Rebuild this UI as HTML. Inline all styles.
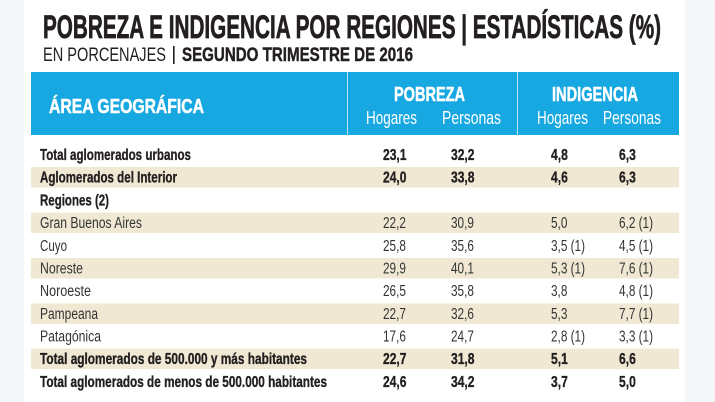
<!DOCTYPE html>
<html>
<head>
<meta charset="utf-8">
<style>
  html,body{margin:0;padding:0;background:#f4f6fa;}
  svg{display:block;}
  text{font-family:"Liberation Sans", Arial, sans-serif;}
  .b{font-weight:bold;fill:#231f20;stroke:#231f20;stroke-width:0.35;}
  .r{font-weight:normal;fill:#333333;}
</style>
</head>
<body>
<svg width="715" height="402" viewBox="0 0 715 402" xmlns="http://www.w3.org/2000/svg">
  <rect x="0" y="0" width="715" height="402" fill="#f4f6fa"/>
  <rect x="24" y="0" width="661" height="402" fill="#ffffff"/>

  <!-- Title -->
  <text x="43" y="38" font-size="32" font-weight="bold" fill="#231f20" stroke="#231f20" stroke-width="0.7" textLength="618" lengthAdjust="spacingAndGlyphs">POBREZA E INDIGENCIA POR REGIONES | ESTADÍSTICAS (%)</text>
  <text x="43" y="61" font-size="19.5" fill="#231f20" textLength="123" lengthAdjust="spacingAndGlyphs">EN PORCENAJES</text>
  <rect x="173" y="46" width="1.6" height="18" fill="#231f20"/>
  <text x="182" y="61" font-size="19.5" font-weight="bold" fill="#231f20" stroke="#231f20" stroke-width="0.45" textLength="231" lengthAdjust="spacingAndGlyphs">SEGUNDO TRIMESTRE DE 2016</text>

  <!-- Header band -->
  <rect x="31" y="72" width="648" height="63" fill="#17a8e2"/>
  <rect x="347" y="72" width="1" height="63" fill="#b9e3f6"/>
  <rect x="517" y="72" width="1" height="63" fill="#b9e3f6"/>
  <text x="49" y="113" font-size="20" font-weight="bold" fill="#ffffff" stroke="#ffffff" stroke-width="0.5" textLength="155" lengthAdjust="spacingAndGlyphs">ÁREA GEOGRÁFICA</text>
  <text x="394" y="101" font-size="20" font-weight="bold" fill="#ffffff" stroke="#ffffff" stroke-width="0.5" textLength="71" lengthAdjust="spacingAndGlyphs">POBREZA</text>
  <text x="552" y="101" font-size="20" font-weight="bold" fill="#ffffff" stroke="#ffffff" stroke-width="0.5" textLength="86" lengthAdjust="spacingAndGlyphs">INDIGENCIA</text>
  <text x="366" y="124" font-size="18" fill="#ffffff" textLength="51" lengthAdjust="spacingAndGlyphs">Hogares</text>
  <text x="442" y="124" font-size="18" fill="#ffffff" textLength="59" lengthAdjust="spacingAndGlyphs">Personas</text>
  <text x="537" y="124" font-size="18" fill="#ffffff" textLength="51" lengthAdjust="spacingAndGlyphs">Hogares</text>
  <text x="603" y="124" font-size="18" fill="#ffffff" textLength="58" lengthAdjust="spacingAndGlyphs">Personas</text>

  <!-- Beige stripes -->
  <rect x="31" y="167" width="648" height="20.5" fill="#f0e8d3"/>
  <rect x="31" y="212.6" width="648" height="20.5" fill="#f0e8d3"/>
  <rect x="31" y="258" width="648" height="20.5" fill="#f0e8d3"/>
  <rect x="31" y="303.4" width="648" height="20.5" fill="#f0e8d3"/>
  <rect x="31" y="348.6" width="648" height="20.5" fill="#f0e8d3"/>

  <!-- Labels -->
  <g font-size="15.5">
    <text class="b" x="40" y="160" textLength="151" lengthAdjust="spacingAndGlyphs">Total aglomerados urbanos</text>
    <text class="b" x="40" y="182.7" textLength="137" lengthAdjust="spacingAndGlyphs">Aglomerados del Interior</text>
    <text class="b" x="40" y="205.4" textLength="69" lengthAdjust="spacingAndGlyphs">Regiones (2)</text>
    <text class="r" x="40" y="228.1" textLength="102" lengthAdjust="spacingAndGlyphs">Gran Buenos Aires</text>
    <text class="r" x="40" y="250.8" textLength="27" lengthAdjust="spacingAndGlyphs">Cuyo</text>
    <text class="r" x="40" y="273.5" textLength="43" lengthAdjust="spacingAndGlyphs">Noreste</text>
    <text class="r" x="40" y="296.2" textLength="51" lengthAdjust="spacingAndGlyphs">Noroeste</text>
    <text class="r" x="40" y="318.9" textLength="58" lengthAdjust="spacingAndGlyphs">Pampeana</text>
    <text class="r" x="40" y="341.6" textLength="61" lengthAdjust="spacingAndGlyphs">Patagónica</text>
    <text class="b" x="40" y="364" textLength="267" lengthAdjust="spacingAndGlyphs">Total aglomerados de 500.000 y más habitantes</text>
    <text class="b" x="40" y="387" textLength="287" lengthAdjust="spacingAndGlyphs">Total aglomerados de menos de 500.000 habitantes</text>
  </g>

  <!-- Numbers -->
  <g font-size="15.5">
    <!-- row 0 -->
    <text class="b" transform="translate(383 160) scale(0.78 1)">23,1</text>
    <text class="b" transform="translate(451 160) scale(0.78 1)">32,2</text>
    <text class="b" transform="translate(551 160) scale(0.78 1)">4,8</text>
    <text class="b" transform="translate(619 160) scale(0.78 1)">6,3</text>
    <!-- row 1 -->
    <text class="b" transform="translate(383 182.7) scale(0.78 1)">24,0</text>
    <text class="b" transform="translate(451 182.7) scale(0.78 1)">33,8</text>
    <text class="b" transform="translate(551 182.7) scale(0.78 1)">4,6</text>
    <text class="b" transform="translate(619 182.7) scale(0.78 1)">6,3</text>
    <!-- row 3 -->
    <text class="r" transform="translate(383 228.1) scale(0.76 1)">22,2</text>
    <text class="r" transform="translate(451 228.1) scale(0.76 1)">30,9</text>
    <text class="r" transform="translate(551 228.1) scale(0.76 1)">5,0</text>
    <text class="r" transform="translate(619 228.1) scale(0.76 1)">6,2 (1)</text>
    <!-- row 4 -->
    <text class="r" transform="translate(383 250.8) scale(0.76 1)">25,8</text>
    <text class="r" transform="translate(451 250.8) scale(0.76 1)">35,6</text>
    <text class="r" transform="translate(551 250.8) scale(0.76 1)">3,5 (1)</text>
    <text class="r" transform="translate(619 250.8) scale(0.76 1)">4,5 (1)</text>
    <!-- row 5 -->
    <text class="r" transform="translate(383 273.5) scale(0.76 1)">29,9</text>
    <text class="r" transform="translate(451 273.5) scale(0.76 1)">40,1</text>
    <text class="r" transform="translate(551 273.5) scale(0.76 1)">5,3 (1)</text>
    <text class="r" transform="translate(619 273.5) scale(0.76 1)">7,6 (1)</text>
    <!-- row 6 -->
    <text class="r" transform="translate(383 296.2) scale(0.76 1)">26,5</text>
    <text class="r" transform="translate(451 296.2) scale(0.76 1)">35,8</text>
    <text class="r" transform="translate(551 296.2) scale(0.76 1)">3,8</text>
    <text class="r" transform="translate(619 296.2) scale(0.76 1)">4,8 (1)</text>
    <!-- row 7 -->
    <text class="r" transform="translate(383 318.9) scale(0.76 1)">22,7</text>
    <text class="r" transform="translate(451 318.9) scale(0.76 1)">32,6</text>
    <text class="r" transform="translate(551 318.9) scale(0.76 1)">5,3</text>
    <text class="r" transform="translate(619 318.9) scale(0.76 1)">7,7 (1)</text>
    <!-- row 8 -->
    <text class="r" transform="translate(383 341.6) scale(0.76 1)">17,6</text>
    <text class="r" transform="translate(451 341.6) scale(0.76 1)">24,7</text>
    <text class="r" transform="translate(551 341.6) scale(0.76 1)">2,8 (1)</text>
    <text class="r" transform="translate(619 341.6) scale(0.76 1)">3,3 (1)</text>
    <!-- row 9 -->
    <text class="b" transform="translate(383 364) scale(0.78 1)">22,7</text>
    <text class="b" transform="translate(451 364) scale(0.78 1)">31,8</text>
    <text class="b" transform="translate(551 364) scale(0.78 1)">5,1</text>
    <text class="b" transform="translate(619 364) scale(0.78 1)">6,6</text>
    <!-- row 10 -->
    <text class="b" transform="translate(383 387) scale(0.78 1)">24,6</text>
    <text class="b" transform="translate(451 387) scale(0.78 1)">34,2</text>
    <text class="b" transform="translate(551 387) scale(0.78 1)">3,7</text>
    <text class="b" transform="translate(619 387) scale(0.78 1)">5,0</text>
  </g>
</svg>
</body>
</html>
